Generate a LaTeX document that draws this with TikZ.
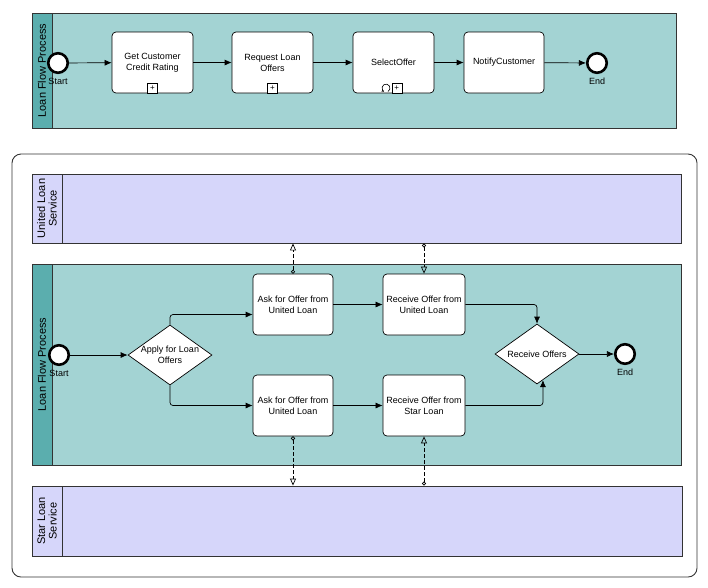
\documentclass[tikz,border=0pt]{standalone}
\usepackage{fontspec}
\setmainfont{Liberation Sans}
\usepackage{tikz}
\usetikzlibrary{
    arrows.meta,
    positioning,
    shapes.geometric,
    calc
}
\definecolor{poolgreen}{HTML}{A3D3D3}
\definecolor{poolhead}{HTML}{5BAEAE}
\definecolor{lanelilac}{HTML}{D6D6FA}
\definecolor{edgegray}{HTML}{333333}

\begin{document}
\begin{tikzpicture}[
    x=1pt, y=-1pt,
    pool/.style={rectangle, draw=edgegray, line width=0.9pt, fill=poolgreen, inner sep=0pt},
    poolhdr/.style={rectangle, draw=edgegray, line width=0.9pt, fill=poolhead, inner sep=0pt, minimum width=20, minimum height=#1},
    lane/.style={rectangle, draw=edgegray, line width=0.9pt, fill=lanelilac, inner sep=0pt},
    lanehdr/.style={rectangle, draw=edgegray, line width=0.9pt, fill=lanelilac, inner sep=0pt, minimum width=30, minimum height=#1},
    hdrtext/.style={rotate=90, font=\fontsize{11}{11.5}\selectfont, align=center},
    task/.style={rectangle, rounded corners=4, draw=black, line width=0.7pt, fill=white, minimum width=81, minimum height=61, align=center, font=\fontsize{9}{11}\selectfont},
    gate/.style={diamond, draw=black, line width=0.7pt, fill=white, minimum width=84, minimum height=60, inner sep=0pt},
    event/.style={circle, draw=black, line width=2.6pt, fill=white, minimum size=19.5, inner sep=0pt},
    evlabel/.style={font=\fontsize{9}{10}\selectfont, inner sep=0.5pt},
    marker/.style={rectangle, draw=black, line width=0.6pt, fill=white, minimum size=10, inner sep=0pt, font=\fontsize{8}{8}\selectfont},
    flow/.style={-{Latex[length=7pt, width=6pt]}, line width=0.7pt, rounded corners=3},
    msg/.style={{Circle[open, length=4pt, width=4pt]}-{Triangle[open, length=7pt, width=6pt]}, line width=0.7pt, dash pattern=on 4pt off 2pt},
]
    \useasboundingbox (0,0) rectangle (708,587);

    % Upper pool
    \node[pool, minimum width=644, minimum height=115] (topPool) at (354,70.5) {};
    \node[poolhdr=115, anchor=west] (topHdr) at (topPool.west) {};
    \node[hdrtext] at (topHdr) {Loan Flow Process};

    \node[event] (topStart) at (58,63) {};
    \node[evlabel, below=3pt of topStart] {Start};
    \node[task] (getCredit) at (152.5,62.5) {Get Customer\\Credit Rating};
    \node[task] (reqOffers) at (272.5,62.5) {Request Loan\\Offers};
    \node[task] (selOffer) at (393.5,62.5) {SelectOffer};
    \node[task, minimum width=80] (notify) at (504,62.5) {NotifyCustomer};
    \node[event] (topEnd) at (597,63) {};
    \node[evlabel, below=3pt of topEnd] {End};

    % sub-process markers
    \node[marker, anchor=south] (mk1) at (getCredit.south) {+};
    \node[marker, anchor=south] (mk2) at (reqOffers.south) {+};
    \node[marker, anchor=south west] (mk3) at ($(selOffer.south)+(-2,0)$) {+};
    \draw[line width=0.6pt, -{Stealth[length=2.5pt, width=2.5pt]}]
        ($(mk3.west)+(-3.5,3.5)$) arc[start angle=60, end angle=-240, radius=4];

    \draw[flow] (topStart) -- (getCredit);
    \draw[flow] (getCredit) -- (reqOffers);
    \draw[flow] (reqOffers) -- (selOffer);
    \draw[flow] (selOffer) -- (notify);
    \draw[flow] (notify) -- (topEnd);

    % Collaboration frame
    \node[rectangle, rounded corners=9, draw=edgegray, line width=0.9pt, fill=white, minimum width=685, minimum height=423] (frame) at (354.5,365.5) {};

    % United Loan Service lane
    \node[lane, minimum width=649, minimum height=69] (united) at (356.5,208.5) {};
    \node[lanehdr=69, anchor=west] (unitedHdr) at (united.west) {};
    \node[hdrtext] at (unitedHdr) {United Loan\\Service};

    % Lower pool
    \node[pool, minimum width=649, minimum height=201] (lowPool) at (356.5,364.5) {};
    \node[poolhdr=201, anchor=west] (lowHdr) at (lowPool.west) {};
    \node[hdrtext] at (lowHdr) {Loan Flow Process};

    % Star Loan Service lane
    \node[lane, minimum width=650, minimum height=70] (star) at (357,521) {};
    \node[lanehdr=70, anchor=west] (starHdr) at (star.west) {};
    \node[hdrtext] at (starHdr) {Star Loan\\Service};

    % Lower process
    \node[event] (lowStart) at (59,355) {};
    \node[evlabel, below=3pt of lowStart] {Start};
    \node[gate, label={[align=center, font=\fontsize{9}{11}\selectfont]center:Apply for Loan\\Offers}] (applyGw) at (170,355) {};
    \node[task, minimum width=80] (askUnited) at (293,304.5) {Ask for Offer from\\United Loan};
    \node[task, minimum width=80] (askStar) at (293,405.5) {Ask for Offer from\\United Loan};
    \node[task, minimum width=82] (recUnited) at (424,304.5) {Receive Offer from\\United Loan};
    \node[task, minimum width=82] (recStar) at (424,405.5) {Receive Offer from\\Star Loan};
    \node[gate, label={[font=\fontsize{9}{11}\selectfont]center:Receive Offers}] (recGw) at (537,354) {};
    \node[event] (lowEnd) at (625,354) {};
    \node[evlabel, below=3pt of lowEnd] {End};

    \coordinate (starIn) at ($(recGw.south)!0.14!(recGw.east)$);

    \draw[flow] (lowStart) -- (applyGw);
    \draw[flow] (applyGw.north) |- ($(askUnited.west)+(0,10)$);
    \draw[flow] (applyGw.south) |- (askStar.west);
    \draw[flow] (askUnited) -- (recUnited);
    \draw[flow] (askStar) -- (recStar);
    \draw[flow] (recUnited.east) -| (recGw.north);
    \draw[flow] (recStar.east) -| (starIn);
    \draw[flow] (recGw) -- (lowEnd);

    % Message flows
    \draw[msg] (askUnited.north) -- (askUnited.north |- united.south);
    \draw[msg] (recUnited.north |- united.south) -- (recUnited.north);
    \draw[msg] (askStar.south) -- (askStar.south |- star.north);
    \draw[msg] (recStar.south |- star.north) -- (recStar.south);

\end{tikzpicture}
\end{document}
